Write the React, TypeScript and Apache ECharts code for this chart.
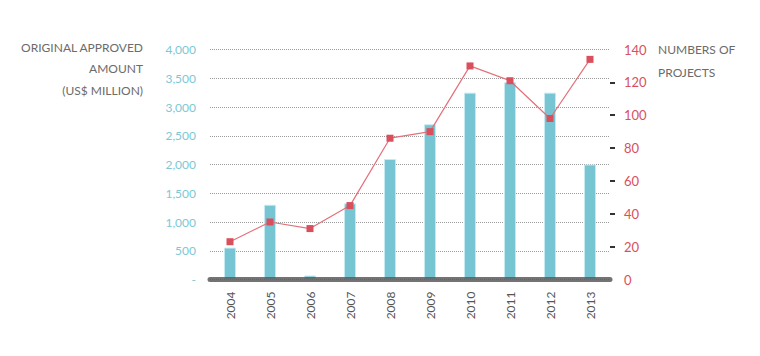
import React, { useEffect, useRef } from "react";
import * as echarts from "echarts";

const years = ["2004", "2005", "2006", "2007", "2008", "2009", "2010", "2011", "2012", "2013"];
const amounts = [555, 1300, 70, 1325, 2095, 2700, 3250, 3430, 3250, 2000];
const projects = [23, 35, 31, 45, 86, 90, 130, 121, 98, 134];
const rightTicks = [20, 40, 60, 80, 100, 120];
const leftTitle = ["ORIGINAL APPROVED", "AMOUNT", "(US$ MILLION)"];
const rightTitle = ["NUMBERS OF", "PROJECTS"];

export default function App() {
  const ref = useRef<HTMLDivElement>(null);
  useEffect(() => {
    document.body.style.margin = "0";
    if (!ref.current) return;
    const chart = echarts.init(ref.current, undefined, { renderer: "svg" });
    const font = "Lato, 'Open Sans', sans-serif";
    chart.setOption({
      animation: false,
      textStyle: { fontFamily: font },
      graphic: [
        ...leftTitle.map((t, i) => ({
          type: "text",
          right: 760 - 143,
          top: 41 + i * 21.5,
          style: { text: t, fill: "#6b6b6b", font: `12px ${font}`, textAlign: "right" },
        })),
        ...rightTitle.map((t, i) => ({
          type: "text",
          left: 658,
          top: 43 + i * 23,
          style: { text: t, fill: "#6b6b6b", font: `12px ${font}` },
        })),
      ],
      grid: { left: 210, right: 150, top: 49.5, bottom: 356 - 279.5 },
      xAxis: {
        type: "category",
        data: years,
        z: 5,
        axisLine: { show: true, lineStyle: { color: "rgba(90,90,90,0.85)", width: 5 } },
        axisTick: { show: false },
        axisLabel: { rotate: 90, color: "#555", fontSize: 12, margin: 12, fontFamily: font },
      },
      yAxis: [
        {
          type: "value",
          min: 0,
          max: 4000,
          interval: 500,
          axisLine: { show: false },
          axisTick: { show: false },
          axisLabel: {
            color: "#7cc8d6",
            fontSize: 12,
            margin: 14,
            fontFamily: font,
            formatter: (v: number) => (v === 0 ? "-" : v.toLocaleString("en-US")),
          },
          splitLine: { show: true, lineStyle: { color: "#999", type: "dotted", width: 1 } },
        },
        {
          type: "value",
          min: 0,
          max: 140,
          interval: 20,
          position: "right",
          axisLine: { show: false },
          axisTick: { show: true, length: 5, customValues: rightTicks, lineStyle: { color: "#333", width: 2 } },
          axisLabel: { color: "#d9505d", fontSize: 13, margin: 14, fontFamily: font },
          splitLine: { show: false },
        },
      ],
      series: [
        {
          type: "bar",
          data: amounts,
          yAxisIndex: 0,
          barWidth: 12,
          itemStyle: { color: "#77c4d3", borderColor: "rgba(200,235,242,0.9)", borderWidth: 1 },
        },
        {
          type: "line",
          data: projects,
          yAxisIndex: 1,
          symbol: "rect",
          symbolSize: 7,
          lineStyle: { color: "#e3707a", width: 1.2 },
          itemStyle: { color: "#d94f5c" },
        },
      ],
    });
    return () => chart.dispose();
  }, []);
  return <div ref={ref} style={{ width: 760, height: 356 }} />;
}
